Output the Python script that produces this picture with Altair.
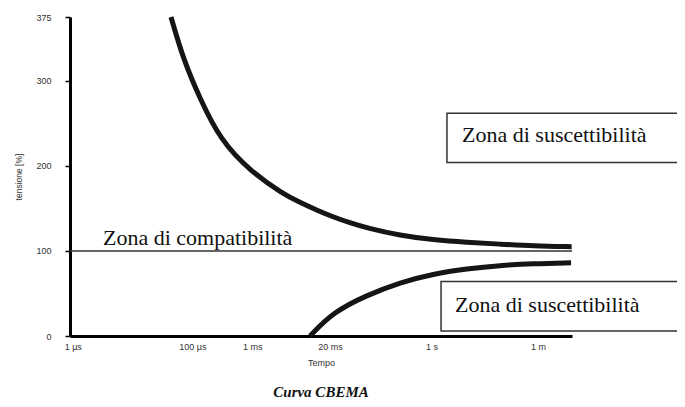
import altair as alt
import pandas as pd
import math

# --- data ---
upper_t = [4.4e-5, 7e-5, 1.34e-4, 2.9e-4, 9.2e-4, 3.3e-3, 6.3e-3, 1.2e-2, 2.25e-2,
           4.3e-2, 8.3e-2, 0.3, 1.06, 3.9, 14, 50, 220]
upper_v = [375, 326, 279, 231, 194, 167, 157, 148, 140, 133, 127, 118, 113, 110,
           108, 106, 105]
lower_t = [9.3e-3, 2.25e-2, 8.3e-2, 0.3, 1.06, 3.9, 14, 50, 215]
lower_v = [0, 28, 48, 63, 73, 79, 83, 85, 86]

tick_t = [1e-6, 1e-4, 1e-3, 0.02, 1, 60]
tick_lbl = ["1 µs", "100 µs", "1 ms", "20 ms", "1 s", "1 m"]
y_ticks = [0, 100, 200, 300, 375]
ref_level = [100]

box_t = [1.81, 1.44]
box_t2 = [2e4, 2e4]
box_v = [204, 6]
box_v2 = [262, 64]

zone_t = [3.2e-6, 3.23, 2.47]
zone_v = [107.5, 228, 28.5]
zone_txt = ["Zona di compatibilità", "Zona di suscettibilità", "Zona di suscettibilità"]

label_expr = ""
for t, l in zip(tick_t, tick_lbl):
    label_expr += f"abs(log(datum.value)/LN10 - ({math.log10(t):.5f})) < 0.01 ? '{l}' : "
label_expr += "''"

xscale = alt.Scale(type="log", domain=[9e-7, 223], nice=False)
yscale = alt.Scale(domain=[0, 375], nice=False, zero=True)

curves = pd.DataFrame(
    {"t": upper_t + lower_t, "v": upper_v + lower_v,
     "c": ["upper"] * len(upper_t) + ["lower"] * len(lower_t)}
)

xaxis = alt.Axis(values=tick_t, labelExpr=label_expr, title="Tempo", grid=False,
                 ticks=False, domainColor="black", domainWidth=3, labelPadding=6,
                 labelFont="Liberation Sans", labelFontSize=9, labelColor="#333",
                 titleFont="Liberation Sans", titleFontSize=9, titleFontWeight="normal",
                 titleColor="#333", titlePadding=7, labelFlush=False)
yaxis = alt.Axis(values=y_ticks, title="tensione [%]", grid=False, tickSize=5,
                 tickColor="black", tickWidth=1.5,
                 domainColor="black", domainWidth=3, labelPadding=14,
                 labelFont="Liberation Sans", labelFontSize=9, labelColor="#333",
                 titleFont="Liberation Sans", titleFontSize=8.5, titleFontWeight="normal",
                 titleColor="#333", titlePadding=12, labelFlush=False)

base_lines = alt.Chart(curves).mark_line(
    color="#151515", strokeWidth=5, interpolate="basis", clip=False
).encode(
    x=alt.X("t:Q", scale=xscale, axis=xaxis),
    y=alt.Y("v:Q", scale=yscale, axis=yaxis),
    detail="c:N",
)

ref = alt.Chart(pd.DataFrame({"v": ref_level})).mark_rule(
    color="#333", strokeWidth=1.6
).encode(y=alt.Y("v:Q", scale=yscale))

boxes = alt.Chart(pd.DataFrame({"t": box_t, "t2": box_t2, "v": box_v, "v2": box_v2})).mark_rect(
    fill="white", stroke="#333", strokeWidth=1.5, clip=False
).encode(
    x=alt.X("t:Q", scale=xscale), x2="t2:Q",
    y=alt.Y("v:Q", scale=yscale), y2="v2:Q",
)

zones = alt.Chart(pd.DataFrame({"t": zone_t, "v": zone_v, "txt": zone_txt})).mark_text(
    align="left", baseline="alphabetic", font="Liberation Serif", fontSize=22,
    color="#111", clip=False
).encode(
    x=alt.X("t:Q", scale=xscale), y=alt.Y("v:Q", scale=yscale), text="txt:N"
)

chart = alt.layer(ref, boxes, base_lines, zones).properties(
    width=502, height=319,
    autosize=alt.AutoSizeParams(type="none"),
    padding={"left": 62, "top": 9, "right": 105, "bottom": 63},
    background="white",
    title=alt.TitleParams(text="Curva CBEMA", orient="bottom", anchor="middle",
                          font="Liberation Serif", fontStyle="italic", fontWeight="bold",
                          fontSize=15, color="#111", offset=18),
).configure_view(strokeWidth=0, stroke=None)

chart.save("out.html", embed_options={"renderer": "svg", "actions": False})
